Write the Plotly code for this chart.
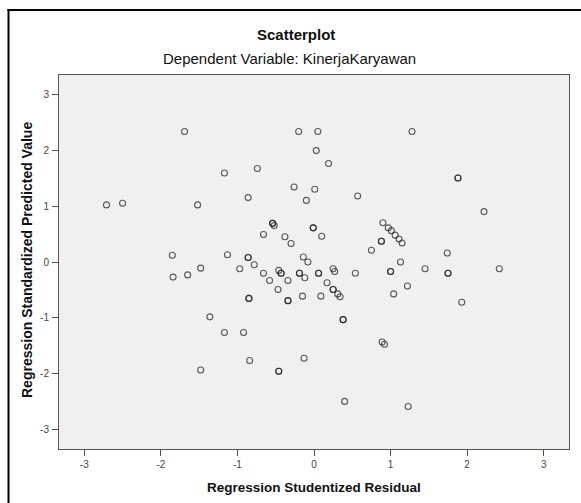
import plotly.graph_objects as go

# Regression Studentized Residual (x) and Regression Standardized Predicted Value (y)
residual = [
    -1.69, -1.17, -0.74, -0.86, -2.71, -2.50, -1.52, -1.85, -1.13, -0.86, -0.86,
    -0.78, -0.97, -1.48, -1.65, -1.84, -0.20, 0.05, 0.03, 0.19, -0.26, 0.01,
    -0.10, 0.57, -0.54, -0.54, -0.52, -0.66, -0.38, -0.30, -0.01, -0.01, 0.10,
    0.90, 0.97, 1.01, 1.06, 1.11, 1.15, 0.88, 0.88, 0.75, 1.13, 1.00, 1.00,
    0.54, -0.66, -0.58, -0.46, -0.43, -0.43, -0.34, -0.14, -0.08, -0.19, -0.19,
    -0.12, 0.06, 0.06, 0.25, 0.27, 1.28, 1.88, 1.88, 2.22, 1.74, 1.45, 1.75,
    1.75, 2.42, 0.17, 0.25, 0.25, 0.31, 0.34, -0.15, 0.09, 1.04, 1.22, 1.93,
    0.38, 0.38, 0.89, 0.92, -0.13, 0.40, 1.23, -0.47, -0.85, -0.85, -0.34,
    -0.34, -1.36, -1.17, -0.92, -0.84, -1.48, -0.46, -0.46,
]
predicted = [
    2.33, 1.59, 1.67, 1.15, 1.02, 1.05, 1.02, 0.12, 0.13, 0.08, 0.08,
    -0.05, -0.12, -0.11, -0.23, -0.27, 2.33, 2.33, 1.99, 1.76, 1.34, 1.30,
    1.10, 1.18, 0.69, 0.69, 0.65, 0.49, 0.45, 0.33, 0.61, 0.61, 0.46,
    0.70, 0.61, 0.56, 0.48, 0.41, 0.34, 0.37, 0.37, 0.21, 0.00, -0.17, -0.17,
    -0.20, -0.20, -0.33, -0.15, -0.20, -0.20, -0.33, 0.09, 0.00, -0.20, -0.20,
    -0.28, -0.20, -0.20, -0.12, -0.17, 2.33, 1.50, 1.50, 0.90, 0.16, -0.12, -0.20,
    -0.20, -0.12, -0.37, -0.49, -0.49, -0.57, -0.62, -0.61, -0.61, -0.57, -0.43, -0.72,
    -1.03, -1.03, -1.43, -1.47, -1.72, -2.49, -2.58, -0.49, -0.65, -0.65, -0.69,
    -0.69, -0.98, -1.26, -1.26, -1.76, -1.93, -1.95, -1.95,
]
tick_vals = [-3, -2, -1, 0, 1, 2, 3]
tick_text = ["-3", "-2", "-1", "0", "1", "2", "3"]

FONT = "Liberation Sans, Arial, sans-serif"

fig = go.Figure()
fig.add_trace(go.Scatter(
    x=residual, y=predicted, mode="markers",
    marker=dict(symbol="circle-open", size=6, color="rgba(30,30,30,0.72)",
                line=dict(width=1.1)),
    hoverinfo="x+y", showlegend=False,
))

axis_common = dict(
    showgrid=False, zeroline=False, showline=True, linecolor="#555555",
    linewidth=1, mirror=True, ticks="outside", ticklen=6, tickwidth=1,
    tickcolor="#555555", tickvals=tick_vals, ticktext=tick_text,
    tickfont=dict(family=FONT, size=10, color="#444444"),
)
fig.update_xaxes(range=[-3.33, 3.33], **axis_common)
fig.update_yaxes(range=[-3.34, 3.34], ticklabelstandoff=1, **axis_common)

def px_x(p):
    return (p - 59) / 510.0

def px_y(p):
    return (449 - p) / 374.0

annotations = [
    dict(text="<b>Scatterplot</b>", x=px_x(296), y=px_y(34), size=15),
    dict(text="Dependent Variable: KinerjaKaryawan", x=px_x(289), y=px_y(58), size=15),
    dict(text="<b>Regression Studentized Residual</b>", x=px_x(314), y=px_y(487), size=13.5),
    dict(text="<b>Regression Standardized Predicted Value</b>", x=px_x(27), y=px_y(260),
         textangle=-90, size=14),
]
for a in annotations:
    sz = a.pop("size")
    a.update(xref="paper", yref="paper", showarrow=False, xanchor="center",
             yanchor="middle", font=dict(family=FONT, size=sz, color="#111111"))

shapes = [
    dict(type="line", xref="paper", yref="paper", x0=px_x(8.5), x1=px_x(8.5),
         y0=px_y(9), y1=px_y(520), line=dict(color="black", width=2)),
    dict(type="line", xref="paper", yref="paper", x0=px_x(7.5), x1=px_x(600),
         y0=px_y(10), y1=px_y(10), line=dict(color="black", width=2)),
]

fig.update_layout(
    width=581, height=503,
    margin=dict(l=59, r=12, t=75, b=54),
    paper_bgcolor="white", plot_bgcolor="#f0f0f0",
    annotations=annotations, shapes=shapes,
    font=dict(family=FONT),
)

fig.write_html(
    "out.html",
    config={"displayModeBar": False},
    post_script="document.body.style.margin='0';document.body.style.padding='0';",
)
